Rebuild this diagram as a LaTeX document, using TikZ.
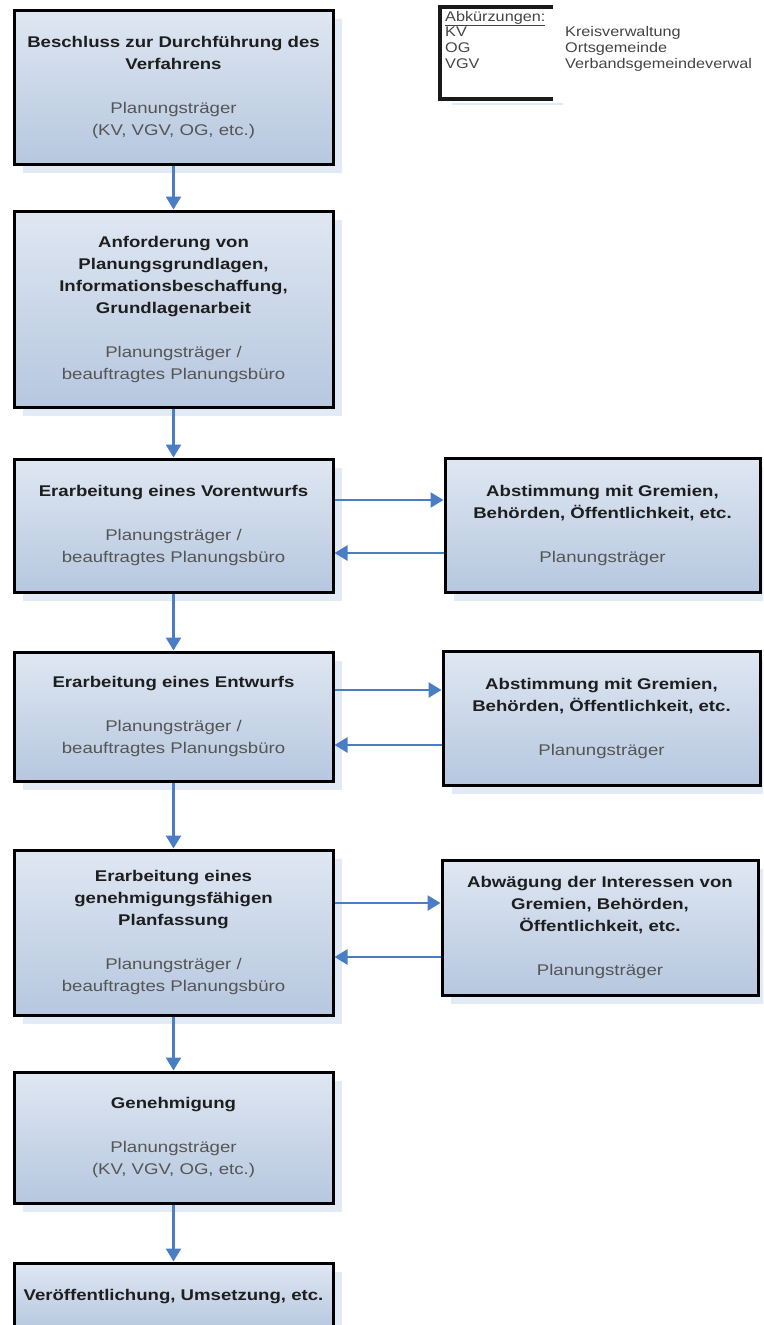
\documentclass[tikz,border=0pt]{standalone}
\usepackage{fontspec}
\usetikzlibrary{arrows.meta,shadows}
\newfontfamily\boxfont{Liberation Sans}[FakeStretch=1.2]
\newfontfamily\legfont{Liberation Sans}[FakeStretch=1.16]
\definecolor{boxtop}{HTML}{DFE7F2}
\definecolor{boxbot}{HTML}{B6C7DF}
\definecolor{shadowblue}{HTML}{E2EAF5}
\definecolor{flowblue}{HTML}{4A7EC4}
\definecolor{titlegray}{HTML}{1E1E1E}
\definecolor{subgray}{HTML}{555555}
\definecolor{leggray}{HTML}{444444}
\newcommand\ttl[1]{\textbf{#1}}
\newcommand\sbt[1]{\textcolor{subgray}{#1}}
\begin{document}
\begin{tikzpicture}[x=1pt,y=-1pt,
  stage/.style={draw=black, line width=3pt, top color=boxtop, bottom color=boxbot,
    align=center, text=titlegray, font=\boxfont\fontsize{15.5}{22}\selectfont,
    drop shadow={shadow xshift=9pt, shadow yshift=-9pt, fill=shadowblue, opacity=1, draw=none}},
  flow/.style={draw=flowblue, line width=2.6pt, -{Triangle[width=15pt,length=13pt]}},
  legline/.style={draw=black!90, line width=3.5pt},
  legtext/.style={text=leggray, font=\legfont\fontsize{14}{16}\selectfont, inner sep=0pt, anchor=base west}
]
\useasboundingbox (0,0) rectangle (763,1325);
\clip (0,0) rectangle (763,1325);

% main column
\node[stage, minimum width=319pt, minimum height=154pt] (b1) at (173.5,87)
  {\ttl{Beschluss zur Durchführung des}\\\ttl{Verfahrens}\\[22pt]\sbt{Planungsträger}\\\sbt{(KV, VGV, OG, etc.)}};
\node[stage, minimum width=319pt, minimum height=196pt] (b2) at (173.5,309)
  {\ttl{Anforderung von}\\\ttl{Planungsgrundlagen,}\\\ttl{Informationsbeschaffung,}\\\ttl{Grundlagenarbeit}\\[22pt]\sbt{Planungsträger /}\\\sbt{beauftragtes Planungsbüro}};
\node[stage, minimum width=319pt, minimum height=133pt] (b3) at (173.5,525.5)
  {\ttl{Erarbeitung eines Vorentwurfs}\\[22pt]\sbt{Planungsträger /}\\\sbt{beauftragtes Planungsbüro}};
\node[stage, minimum width=319pt, minimum height=129pt] (b4) at (173.5,716.5)
  {\ttl{Erarbeitung eines Entwurfs}\\[22pt]\sbt{Planungsträger /}\\\sbt{beauftragtes Planungsbüro}};
\node[stage, minimum width=319pt, minimum height=165pt] (b5) at (173.5,932.5)
  {\ttl{Erarbeitung eines}\\\ttl{genehmigungsfähigen}\\\ttl{Planfassung}\\[22pt]\sbt{Planungsträger /}\\\sbt{beauftragtes Planungsbüro}};
\node[stage, minimum width=319pt, minimum height=131pt] (b7) at (173.5,1137.5)
  {\ttl{Genehmigung}\\[22pt]\sbt{Planungsträger}\\\sbt{(KV, VGV, OG, etc.)}};
\node[stage, minimum width=319pt, minimum height=67pt] (b8) at (173.5,1296.5)
  {\ttl{Veröffentlichung, Umsetzung, etc.}};

% side column
\node[stage, minimum width=315pt, minimum height=134pt] (r3) at (602.5,525)
  {\ttl{Abstimmung mit Gremien,}\\\ttl{Behörden, Öffentlichkeit, etc.}\\[22pt]\sbt{Planungsträger}};
\node[stage, minimum width=317pt, minimum height=134pt] (r4) at (601.5,718)
  {\ttl{Abstimmung mit Gremien,}\\\ttl{Behörden, Öffentlichkeit, etc.}\\[22pt]\sbt{Planungsträger}};
\node[stage, minimum width=316pt, minimum height=135pt] (r5) at (600,927.5)
  {\ttl{Abwägung der Interessen von}\\\ttl{Gremien, Behörden,}\\\ttl{Öffentlichkeit, etc.}\\[22pt]\sbt{Planungsträger}};

% vertical flow
\draw[flow] (b1) -- (b2);
\draw[flow] (b2) -- (b3);
\draw[flow] (b3) -- (b4);
\draw[flow] (b4) -- (b5);
\draw[flow] (b5) -- (b7);
\draw[flow] (b7) -- (b8);

% exchanges with the side boxes
\coordinate (o3) at ([yshift=25.5pt]b3.east);
\coordinate (i3) at ([yshift=-27.5pt]b3.east);
\coordinate (o4) at ([yshift=26.5pt]b4.east);
\coordinate (i4) at ([yshift=-28.5pt]b4.east);
\coordinate (o5) at ([yshift=29.5pt]b5.east);
\coordinate (i5) at ([yshift=-24.5pt]b5.east);
\draw[flow] (o3) -- (o3 -| r3.west);
\draw[flow] (i3 -| r3.west) -- (i3);
\draw[flow] (o4) -- (o4 -| r4.west);
\draw[flow] (i4 -| r4.west) -- (i4);
\draw[flow] (o5) -- (o5 -| r5.west);
\draw[flow] (i5 -| r5.west) -- (i5);

% abbreviation legend
\coordinate (lt) at (440,7);
\coordinate (lb) at (440,99);
\draw[shadowblue, line width=2pt] (452,104) -- (563,104);
\draw[legline] (553,7) -- (lt) -- (lb) -- (553,99);
\node[legtext] (lhead) at (445,21) {\underline{Abkürzungen:}};
\node[legtext] (k1) at (445,36) {KV};
\node[legtext] (v1) at (565,36) {Kreisverwaltung};
\node[legtext] (k2) at (445,52) {OG};
\node[legtext] (v2) at (565,52) {Ortsgemeinde};
\node[legtext] (k3) at (445,68) {VGV};
\node[legtext] (v3) at (565,68) {Verbandsgemeindeverwal};
\end{tikzpicture}
\end{document}
